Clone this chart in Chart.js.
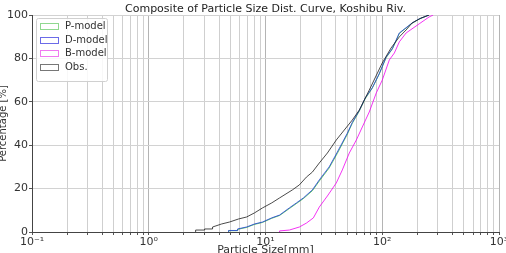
<!DOCTYPE html>
<html>
<head>
<meta charset="utf-8">
<script src="https://cdn.jsdelivr.net/npm/chart.js@4.4.0/dist/chart.umd.min.js"></script>
<style>
body { margin: 0; background: #fff; }
</style>
</head>
<body>
<canvas id="grafico" width="506" height="253"></canvas>
<script>
// Curva granulometrica compuesta

var titulo = 'Composite of Particle Size Dist. Curve, Koshibu Riv.';
var tituloX = 'Particle Size[mm]';
var tituloY = 'Percentage [%]';
var nombres = ['P-model', 'D-model', 'B-model', 'Obs.'];

// Obs.
var tamObs = [2.52, 2.52, 3.01, 3.01, 3.52, 3.52, 4.21, 4.92, 5.88, 6.88, 8.05, 9.43, 11.3, 13.2, 17.0, 19.5, 22.4, 25.2, 28.9, 33.9, 40.4, 47.3, 55.4, 63.6, 77.4, 100, 119, 140, 160, 180, 215, 252];
var pctObs = [0, 0.9, 0.9, 1.4, 1.4, 2.3, 3.7, 4.6, 6.0, 6.9, 8.8, 11.1, 13.4, 15.7, 19.4, 21.7, 25.3, 27.6, 31.8, 36.4, 42.4, 47.0, 51.6, 56.2, 65.4, 77.9, 84.8, 89.9, 93.1, 96.3, 98.6, 100];

// D-model
var tamD = [4.83, 4.83, 5.77, 5.77, 6.88, 8.05, 9.43, 11.3, 13.2, 16.0, 18.4, 21.1, 25.2, 28.9, 35.1, 41.2, 50.2, 55.4, 63.6, 71.6, 82.2, 94.3, 108, 122, 140, 180, 207, 252];
var pctD = [0, 0.7, 0.7, 1.4, 2.3, 3.7, 4.6, 6.5, 7.8, 11.1, 13.4, 15.7, 19.4, 24.0, 30.0, 36.8, 45.5, 50.5, 56.0, 61.8, 66.5, 73.0, 80.6, 84.5, 91.7, 96.3, 98.2, 100];

// P-model
var tamP = [4.83, 4.83, 5.77, 5.77, 6.88, 8.05, 9.43, 11.3, 13.2, 16.0, 18.4, 21.1, 25.2, 28.9, 35.1, 41.2, 50.2, 55.4, 63.6, 71.6, 82.2, 94.3, 108, 122, 140, 180, 207, 252];
var pctP = [0, 0.6, 0.6, 1.2, 2.1, 3.5, 4.4, 6.3, 7.6, 10.8, 13.1, 15.4, 19.0, 23.5, 29.5, 36.2, 45.0, 50.1, 55.7, 61.5, 66.3, 72.8, 80.4, 84.3, 91.5, 96.2, 98.1, 100];

// B-model
var tamB = [13.2, 13.2, 16.0, 19.5, 22.4, 25.7, 28.9, 33.9, 40.4, 45.5, 52.2, 60.0, 67.5, 77.4, 88.9, 100, 115, 127, 140, 160, 207, 252, 273];
var pctB = [0, 0.5, 0.9, 2.3, 4.1, 6.5, 11.5, 16.6, 22.6, 28.6, 36.4, 42.4, 48.4, 55.3, 64.1, 70.0, 79.3, 82.5, 87.6, 91.7, 95.9, 99.1, 100];

// ejes
var ticksX = [0.1, 0.2, 0.3, 0.4, 0.5, 0.6, 0.7, 0.8, 0.9,
              1, 2, 3, 4, 5, 6, 7, 8, 9,
              10, 20, 30, 40, 50, 60, 70, 80, 90,
              100, 200, 300, 400, 500, 600, 700, 800, 900, 1000];
var mayoresX = [0.1, 1, 10, 100, 1000];
var etiquetasX = ['10\u207B\u00B9', '10\u2070', '10\u00B9', '10\u00B2', '10\u00B3'];
var ticksY = [0, 20, 40, 60, 80, 100];

var coloresLinea = ['rgba(0,170,0,0.6)', 'rgba(40,70,215,0.85)', 'rgba(240,0,240,0.8)', 'rgba(30,30,30,0.8)'];
var coloresLeyenda = ['#8fd88f', '#6b6be8', '#f07af0', '#777777'];

function puntos(tam, pct) {
    return tam.map(function (t, i) { return { x: t, y: pct[i] }; });
}

function esMayor(v) {
    for (var i = 0; i < mayoresX.length; i++) {
        if (Math.abs(v - mayoresX[i]) < 1e-9 * mayoresX[i]) return i;
    }
    return -1;
}

var fuente = 'DejaVu Sans';

// titulo y leyenda dibujados a mano
var extras = {
    id: 'extras',
    afterDraw: function (chart) {
        var ctx = chart.ctx;
        var area = chart.chartArea;
        ctx.save();
        ctx.fillStyle = '#222';
        ctx.font = '11px "' + fuente + '"';
        ctx.textAlign = 'center';
        ctx.textBaseline = 'middle';
        ctx.fillText(titulo, (area.left + area.right) / 2, 9);

        // leyenda
        var lx = 36, ly = 18, lw = 71, lh = 63;
        ctx.fillStyle = 'rgba(255,255,255,0.85)';
        ctx.strokeStyle = '#d0d0d0';
        ctx.lineWidth = 1;
        ctx.beginPath();
        ctx.roundRect(lx + 0.5, ly + 0.5, lw, lh, 2);
        ctx.fill();
        ctx.stroke();

        ctx.font = '10px "' + fuente + '"';
        ctx.textAlign = 'left';
        for (var i = 0; i < nombres.length; i++) {
            var cy = 26 + i * 13.7;
            ctx.fillStyle = '#fff';
            ctx.strokeStyle = coloresLeyenda[i];
            ctx.fillRect(40, cy - 3, 18, 6);
            ctx.strokeRect(40.5, Math.round(cy - 3) + 0.5, 18, 6);
            ctx.fillStyle = '#333';
            ctx.fillText(nombres[i], 65, cy + 0.5);
        }
        ctx.restore();
    }
};

var datos = [
    { tam: tamP, pct: pctP },
    { tam: tamD, pct: pctD },
    { tam: tamB, pct: pctB },
    { tam: tamObs, pct: pctObs }
];

var datasets = datos.map(function (d, i) {
    return {
        label: nombres[i],
        data: puntos(d.tam, d.pct),
        borderColor: coloresLinea[i],
        backgroundColor: 'transparent',
        borderWidth: 1,
        pointRadius: 0,
        tension: 0,
        fill: false,
        order: 3 - i
    };
});

new Chart(document.getElementById('grafico'), {
    type: 'line',
    data: { datasets: datasets },
    options: {
        responsive: false,
        animation: false,
        layout: { padding: { top: 15, right: 7, left: 0, bottom: 0 } },
        plugins: {
            legend: { display: false },
            tooltip: { enabled: false }
        },
        scales: {
            x: {
                type: 'logarithmic',
                min: 0.1,
                max: 1000,
                afterBuildTicks: function (scale) {
                    scale.ticks = ticksX.map(function (v) { return { value: v }; });
                },
                afterFit: function (scale) {
                    scale.height = 21;
                    scale.paddingLeft = 0;
                    scale.paddingRight = 0;
                },
                ticks: {
                    autoSkip: false,
                    maxRotation: 0,
                    padding: 1,
                    color: '#333',
                    font: { family: fuente, size: 11 },
                    callback: function (v) {
                        var k = esMayor(v);
                        return k >= 0 ? etiquetasX[k] : '';
                    }
                },
                grid: {
                    color: function (c) { return esMayor(c.tick.value) >= 0 ? '#b4b4b4' : '#cfcfcf'; },
                    tickLength: 3,
                    tickColor: '#555'
                },
                border: { color: '#444' },
                title: {
                    display: true,
                    text: tituloX,
                    color: '#333',
                    font: { family: fuente, size: 11 },
                    padding: { top: 0, bottom: -4 }
                }
            },
            y: {
                min: 0,
                max: 100,
                afterBuildTicks: function (scale) {
                    scale.ticks = ticksY.map(function (v) { return { value: v }; });
                },
                afterFit: function (scale) {
                    scale.width = 32;
                    scale.paddingTop = 0;
                    scale.paddingBottom = 0;
                },
                ticks: {
                    padding: 1,
                    color: '#333',
                    font: { family: fuente, size: 11 }
                },
                grid: {
                    color: '#d2d2d2',
                    tickLength: 3,
                    tickColor: '#555'
                },
                border: { color: '#444' },
                title: {
                    display: true,
                    text: tituloY,
                    color: '#333',
                    font: { family: fuente, size: 10 },
                    padding: { top: -3, bottom: 0 }
                }
            }
        }
    },
    plugins: [extras]
});
</script>
</body>
</html>
